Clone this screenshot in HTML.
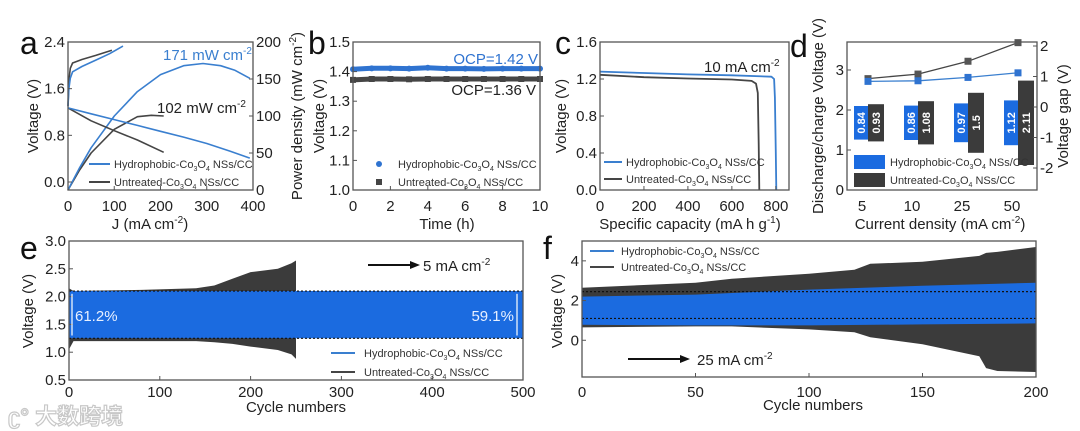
<!DOCTYPE html>
<html><head><meta charset="utf-8">
<style>
html,body{margin:0;padding:0;background:#fff;}
svg{display:block;font-family:"Liberation Sans","Noto Sans CJK SC",sans-serif;}
</style></head>
<body>
<svg id="fig" width="1080" height="431" viewBox="0 0 1080 431" xmlns="http://www.w3.org/2000/svg">
<rect x="0" y="0" width="1080" height="431" fill="#fff"/>
<g id="marks"></g>
<g id="frames"></g>
<g id="ann">
  <text x="20" y="54" font-size="32" fill="#111">a</text>
  <text x="308" y="54" font-size="32" fill="#111">b</text>
  <text x="555" y="54" font-size="32" fill="#111">c</text>
  <text x="790" y="57" font-size="32" fill="#111">d</text>
  <text x="20" y="259" font-size="32" fill="#111">e</text>
  <text x="543" y="259" font-size="32" fill="#111">f</text>

  <text x="163" y="60" font-size="15" fill="#3a7fcf">171 mW cm<tspan font-size="10" dy="-6">-2</tspan></text>
  <text x="157" y="113" font-size="15" fill="#222">102 mW cm<tspan font-size="10" dy="-6">-2</tspan></text>

  <text x="538" y="64" font-size="15" fill="#2f73d0" text-anchor="end">OCP=1.42 V</text>
  <text x="536" y="95" font-size="15" fill="#222" text-anchor="end">OCP=1.36 V</text>

  <text x="704" y="72" font-size="15" fill="#222">10 mA cm<tspan font-size="10" dy="-6">-2</tspan></text>

  <line x1="368" y1="265" x2="412" y2="265" stroke="#111" stroke-width="2"/>
  <polygon points="420,265 410,261 410,269" fill="#111"/>
  <text x="423" y="271" font-size="15" fill="#222">5 mA cm<tspan font-size="10" dy="-6">-2</tspan></text>

  <line x1="628" y1="359" x2="682" y2="359" stroke="#111" stroke-width="2"/>
  <polygon points="690,359 680,355 680,363" fill="#111"/>
  <text x="697" y="365" font-size="15" fill="#222">25 mA cm<tspan font-size="10" dy="-6">-2</tspan></text>

  <text x="8" y="424" font-size="22" fill="#fff" stroke="#c8c8c8" stroke-width="1.2" font-weight="bold">ʗ° 大数跨境</text>
</g>
</svg>
<script>
const NS='http://www.w3.org/2000/svg';
const marks=document.getElementById('marks');
const frames=document.getElementById('frames');
const ann=document.getElementById('ann');
function lin(d0,d1,r0,r1){return v=>r0+(v-d0)/(d1-d0)*(r1-r0);}
function mk(tag,attrs,parent){const e=document.createElementNS(NS,tag);for(const k in attrs)e.setAttribute(k,attrs[k]);parent.appendChild(e);return e;}
const BLUE='#3a7fcf', GRAY='#454545', BAND_BLUE='#1b6be0', BAND_GRAY='#3b3b3b';

/* ---------- data ---------- */
// a: polarization + power
const aBlueDisJ=[0,50,100,150,200,250,300,350,393];
const aBlueDisV=[1.27,1.17,1.07,0.97,0.87,0.77,0.66,0.53,0.41];
const aGrayDisJ=[0,50,100,150,207];
const aGrayDisV=[1.27,1.05,0.88,0.72,0.51];
const aBlueChJ=[0,2,5,10,30,60,90,119];
const aBlueChV=[1.3,1.6,1.78,1.89,1.98,2.09,2.2,2.33];
const aGrayChJ=[0,2,5,10,30,60,95];
const aGrayChV=[1.3,1.75,1.95,2.04,2.1,2.17,2.26];
const aBluePJ=[0,25,50,100,150,200,250,292,330,360,393];
const aBlueP=[0,30,57,100,133,156,168,171,168,162,151];
const aGrayPJ=[0,25,50,100,150,180,207];
const aGrayP=[0,27,50,82,99,101,100];
// b: OCP vs time
const bTime=[0,1,2,3,4,5,6,7,8,9,10];
const bBlue=[1.408,1.411,1.411,1.41,1.413,1.41,1.41,1.409,1.41,1.41,1.41];
const bGray=[1.372,1.375,1.375,1.374,1.375,1.375,1.375,1.375,1.375,1.375,1.375];
// c: discharge
const cBlueCap=[0,200,400,600,780,792,796,800,802];
const cBlueV=[1.28,1.265,1.25,1.24,1.225,1.2,1.0,0.4,0];
const cGrayCap=[0,200,400,600,690,710,718,722,725];
const cGrayV=[1.245,1.22,1.205,1.195,1.18,1.15,1.05,0.5,0];
// d: voltage gap
const dCats=['5','10','25','50'];
const dBlueGap=[0.84,0.86,0.97,1.12];
const dGrayGap=[0.93,1.08,1.5,2.11];
// e: cycling 5 mA
const eBlueCyc=[0,500];
const eBlueTop=[2.1,2.1];
const eBlueBot=[1.25,1.25];
const eGrayCyc=[0,5,80,140,160,180,200,230,245,250];
const eGrayTop=[2.15,2.1,2.12,2.15,2.2,2.32,2.44,2.5,2.6,2.65];
const eGrayBot=[1.05,1.2,1.2,1.2,1.18,1.15,1.1,1.04,0.96,0.88];
// f: cycling 25 mA
const fBlueCyc=[0,50,100,150,200];
const fBlueTop=[2.2,2.3,2.55,2.75,2.9];
const fBlueBot=[0.78,0.75,0.75,0.8,0.85];
const fGrayCyc=[0,50,66,100,120,127,150,175,178,183,200];
const fGrayTop=[2.65,2.9,3.1,3.35,3.55,3.85,3.95,4.25,4.4,4.45,4.7];
const fGrayBot=[0.65,0.7,0.7,0.55,0.4,0.15,-0.2,-0.8,-1.4,-1.55,-1.6];

/* ---------- scales ---------- */
const A={L:68,R:253,T:42,B:190}; const ax=lin(0,400,A.L,A.R), ayL=lin(0,2.4,182,42), ayR=lin(0,200,190,42);
const Bp={L:353,R:540,T:42,B:190}; const bx=lin(0,10,Bp.L,Bp.R), by=lin(1.0,1.5,Bp.B,Bp.T);
const C={L:600,R:789,T:42,B:190}; const cx=lin(0,860,C.L,C.R), cy=lin(0,1.6,C.B,C.T);
const D={L:847,R:1037,T:42,B:190}; const dx=i=>D.L+15+i*50, dyL=lin(0,3.7,D.B,D.T), dyR=lin(0,1,107,76.5);
const E={L:69,R:523,T:241,B:380}; const ex=lin(0,500,E.L,E.R), ey=lin(0.5,3.0,E.B,E.T);
const F={L:582,R:1036,T:241,B:377}; const fx=lin(0,200,F.L,F.R), fy=lin(-1.85,5.0,F.B,F.T);

/* ---------- helpers ---------- */
function pathOf(xs,ys,sx,sy){return xs.map((v,i)=>(i?'L':'M')+sx(v).toFixed(1)+' '+sy(ys[i]).toFixed(1)).join(' ');}
function drawLine(xs,ys,sx,sy,color,w,nm){
  const p=mk('path',{d:pathOf(xs,ys,sx,sy),fill:'none',stroke:color,'stroke-width':w,'stroke-linejoin':'round'},marks);
  
  
  return p;
}
function drawBand(xs,top,bot,sx,sy,color,nm){
  let d='M'+xs.map((v,i)=>sx(v).toFixed(1)+' '+sy(top[i]).toFixed(1)).join(' L');
  for(let i=xs.length-1;i>=0;i--) d+=' L'+sx(xs[i]).toFixed(1)+' '+sy(bot[i]).toFixed(1);
  const p=mk('path',{d:d+' Z',fill:color},marks);
  
  
}
function frame(P,nm){
  const r=mk('rect',{x:P.L,y:P.T,width:P.R-P.L,height:P.B-P.T,fill:'none',stroke:'#555','stroke-width':1.3},frames);
  
  
}
function xTicks(vals,labels,sx,P,ty,nm){
  vals.forEach((v,i)=>{
    const x=sx(v);
    const t=mk('line',{x1:x,y1:P.B,x2:x,y2:P.B-4,stroke:'#555','stroke-width':1},frames);
    
    
    const l=mk('text',{x:x,y:ty,'font-size':15,'text-anchor':'middle',fill:'#222'},frames);
    l.textContent=labels[i];
    
    
  });
}
function yTicks(vals,labels,sy,x0,side,nm){
  vals.forEach((v,i)=>{
    const y=sy(v);
    const t=mk('line',{x1:x0,y1:y,x2:x0+(side<0?4:-4),y2:y,stroke:'#555','stroke-width':1},frames);
    
    
    const l=mk('text',{x:x0+(side<0?-3:3),y:y+5,'font-size':15,'text-anchor':side<0?'end':'start',fill:'#222'},frames);
    l.textContent=labels[i];
    
    
  });
}
function title(txt,x,y,rot,nm,sup){
  const t=mk('text',{x:x,y:y,'font-size':15,'text-anchor':'middle',fill:'#222',transform:rot?`rotate(-90 ${x} ${y})`:''},frames);
  t.textContent=txt;
  if(sup){const s=mk('tspan',{'font-size':10,dy:-6},t);s.textContent=sup[0];const s2=mk('tspan',{dy:6},t);s2.textContent=sup[1];}
  
  
}
function legendText(x,y,pre,parent,nm){
  const t=mk('text',{x:x,y:y,'font-size':11,fill:'#333'},parent);
  t.appendChild(document.createTextNode(pre+'-Co'));
  let s=mk('tspan',{'font-size':7,dy:3},t);s.textContent='3';
  s=mk('tspan',{dy:-3},t);s.textContent='O';
  s=mk('tspan',{'font-size':7,dy:3},t);s.textContent='4';
  s=mk('tspan',{dy:-3},t);s.textContent=' NSs/CC';
  
  
}
function legLine(x1,x2,y,color,w,nm){
  const l=mk('line',{x1:x1,y1:y,x2:x2,y2:y,stroke:color,'stroke-width':w},ann);
  
  
}

/* ---------- panel a ---------- */
drawLine(aGrayPJ,aGrayP,ax,ayR,GRAY,1.6,'power-curve-untreated');
drawLine(aBluePJ,aBlueP,ax,ayR,BLUE,1.6,'power-curve-hydrophobic');
drawLine(aGrayDisJ,aGrayDisV,ax,ayL,GRAY,1.6,'discharge-curve-untreated');
drawLine(aBlueDisJ,aBlueDisV,ax,ayL,BLUE,1.6,'discharge-curve-hydrophobic');
drawLine(aGrayChJ,aGrayChV,ax,ayL,GRAY,1.6,'charge-curve-untreated');
drawLine(aBlueChJ,aBlueChV,ax,ayL,BLUE,1.6,'charge-curve-hydrophobic');
frame(A,'plot-frame-a');
xTicks([0,100,200,300,400],['0','100','200','300','400'],ax,A,211,'x-axis-a');
yTicks([0,0.8,1.6,2.4],['0.0','0.8','1.6','2.4'],ayL,A.L,-1,'y-axis-left-a');
yTicks([0,50,100,150,200],['0','50','100','150','200'],ayR,A.R,1,'y-axis-right-a');
title('J (mA cm',150,229,false,'x-axis-title-a',['-2',')']);
title('Voltage (V)',38,116,true,'y-axis-title-left-a');
title('Power density (mW cm',302,116,true,'y-axis-title-right-a',['-2',')']);
legLine(89,110,164,BLUE,2,'legend-line-hydrophobic-a');
legLine(89,110,182,GRAY,2,'legend-line-untreated-a');
legendText(114,168,'Hydrophobic',ann,'legend-text-hydrophobic-a');
legendText(114,186,'Untreated',ann,'legend-text-untreated-a');

/* ---------- panel b ---------- */
drawLine(bTime,bGray,bx,by,GRAY,5,'ocp-series-untreated');
drawLine(bTime,bBlue,bx,by,'#2f73d0',5,'ocp-series-hydrophobic');
bTime.forEach((t,i)=>{
  const c=mk('circle',{cx:bx(t),cy:by(bBlue[i]),r:3,fill:'#2f73d0'},marks);
  
  
  const s=mk('rect',{x:bx(t)-3,y:by(bGray[i])-3,width:6,height:6,fill:GRAY},marks);
  
  
});
frame(Bp,'plot-frame-b');
xTicks([0,2,4,6,8,10],['0','2','4','6','8','10'],bx,Bp,211,'x-axis-b');
yTicks([1.0,1.1,1.2,1.3,1.4,1.5],['1.0','1.1','1.2','1.3','1.4','1.5'],by,Bp.L,-1,'y-axis-b');
title('Time (h)',447,229,false,'x-axis-title-b');
title('Voltage (V)',324,116,true,'y-axis-title-b');
{const c=mk('circle',{cx:379,cy:164,r:3,fill:'#2f73d0'},ann);
 const s=mk('rect',{x:376,y:179,width:6,height:6,fill:GRAY},ann);}
legendText(398,168,'Hydrophobic',ann,'legend-text-hydrophobic-b');
legendText(398,186,'Untreated',ann,'legend-text-untreated-b');

/* ---------- panel c ---------- */
drawLine(cGrayCap,cGrayV,cx,cy,GRAY,1.8,'discharge-untreated-c');
drawLine(cBlueCap,cBlueV,cx,cy,BLUE,1.8,'discharge-hydrophobic-c');
frame(C,'plot-frame-c');
xTicks([0,200,400,600,800],['0','200','400','600','800'],cx,C,211,'x-axis-c');
yTicks([0,0.4,0.8,1.2,1.6],['0.0','0.4','0.8','1.2','1.6'],cy,C.L,-1,'y-axis-c');
title('Specific capacity (mA h g',690,229,false,'x-axis-title-c',['-1',')']);
title('Voltage (V)',566,116,true,'y-axis-title-c');
legLine(604,622,162,BLUE,2,'legend-line-hydrophobic-c');
legLine(604,622,179,GRAY,2,'legend-line-untreated-c');
legendText(626,166,'Hydrophobic',ann,'legend-text-hydrophobic-c');
legendText(626,183,'Untreated',ann,'legend-text-untreated-c');

/* ---------- panel d ---------- */
const dCenter=1.68;
dCats.forEach((c,i)=>{
  const xb=dx(i)-1;
  const hb=dyL(0)-dyL(dBlueGap[i]);
  const rb=mk('rect',{x:xb-7,y:dyL(dCenter)-hb/2,width:14,height:hb,fill:'#1b6be0'},marks);
  
  
  const hg=dyL(0)-dyL(dGrayGap[i]);
  const rg=mk('rect',{x:xb+7,y:dyL(dCenter)-hg/2,width:16,height:hg,fill:'#3b3b3b'},marks);
  
  
  const yc=dyL(dCenter);
  const tb=mk('text',{x:xb+4,y:yc,'font-size':11,'font-weight':'bold',fill:'#fff','text-anchor':'middle',transform:`rotate(-90 ${xb+4} ${yc})`},marks);
  tb.textContent=dBlueGap[i].toFixed(2);
  
  
  const tg=mk('text',{x:xb+19,y:yc,'font-size':11,'font-weight':'bold',fill:'#fff','text-anchor':'middle',transform:`rotate(-90 ${xb+19} ${yc})`},marks);
  tg.textContent=String(dGrayGap[i]);
  
  
});
const dIdx=dCats.map((c,i)=>i);
const dmx=i=>dx(i)+6;
drawLine(dIdx,dGrayGap,dmx,dyR,GRAY,1.3,'gap-line-untreated');
drawLine(dIdx,dBlueGap,dmx,dyR,BLUE,1.3,'gap-line-hydrophobic');
dIdx.forEach(i=>{
  const g=mk('rect',{x:dmx(i)-3.5,y:dyR(dGrayGap[i])-3.5,width:7,height:7,fill:'#555'},marks);
  
  
  const b=mk('rect',{x:dmx(i)-3.5,y:dyR(dBlueGap[i])-3.5,width:7,height:7,fill:'#2f73d0'},marks);
  
  
});
frame(D,'plot-frame-d');
dCats.forEach((c,i)=>{
  const l=mk('text',{x:dx(i),y:211,'font-size':15,'text-anchor':'middle',fill:'#222'},frames);
  l.textContent=c;
  
  
});
yTicks([0,1,2,3],['0','1','2','3'],dyL,D.L,-1,'y-axis-left-d');
yTicks([-2,-1,0,1,2],['-2','-1','0','1','2'],dyR,D.R,1,'y-axis-right-d');
title('Current density (mA cm',940,229,false,'x-axis-title-d',['-2',')']);
title('Discharge/charge Voltage (V)',823,116,true,'y-axis-title-left-d');
title('Voltage gap (V)',1068,116,true,'y-axis-title-right-d');
{const r1=mk('rect',{x:854,y:155,width:31,height:14,fill:'#1b6be0'},ann);
 const r2=mk('rect',{x:854,y:173,width:31,height:14,fill:'#3b3b3b'},ann);}
legendText(890,166,'Hydrophobic',ann,'legend-text-hydrophobic-d');
legendText(890,184,'Untreated',ann,'legend-text-untreated-d');

/* ---------- panel e ---------- */
drawBand(eGrayCyc,eGrayTop,eGrayBot,ex,ey,BAND_GRAY,'cycling-band-untreated-e');
drawBand(eBlueCyc,eBlueTop,eBlueBot,ex,ey,BAND_BLUE,'cycling-band-hydrophobic-e');
[eBlueTop[0],eBlueBot[0]].forEach(v=>{
  const l=mk('line',{x1:E.L,x2:E.R,y1:ey(v),y2:ey(v),stroke:'#111','stroke-width':1.2,'stroke-dasharray':'2 2'},marks);
  
  
});
frame(E,'plot-frame-e');
xTicks([0,100,200,300,400,500],['0','100','200','300','400','500'],ex,E,397,'x-axis-e');
yTicks([0.5,1.0,1.5,2.0,2.5,3.0],['0.5','1.0','1.5','2.0','2.5','3.0'],ey,E.L,-1,'y-axis-e');
title('Cycle numbers',296,412,false,'x-axis-title-e');
title('Voltage (V)',33,311,true,'y-axis-title-e');
legLine(331,355,353,BLUE,2,'legend-line-hydrophobic-e');
legLine(331,355,372,GRAY,2,'legend-line-untreated-e');
legendText(364,357,'Hydrophobic',ann,'legend-text-hydrophobic-e');
legendText(364,376,'Untreated',ann,'legend-text-untreated-e');
[[72,'start','61.2%',75],[517,'end','59.1%',514]].forEach(([ax0,anc,txt,tx],k)=>{
  const l=mk('line',{x1:ax0,x2:ax0,y1:ey(2.05),y2:ey(1.3),stroke:'#fff','stroke-width':1.2},ann);
  
  
  const t=mk('text',{x:tx,y:321,'font-size':15,fill:'#e8f0ff','text-anchor':anc},ann);
  t.textContent=txt;
  
  
});

/* ---------- panel f ---------- */
drawBand(fGrayCyc,fGrayTop,fGrayBot,fx,fy,BAND_GRAY,'cycling-band-untreated-f');
drawBand(fBlueCyc,fBlueTop,fBlueBot,fx,fy,BAND_BLUE,'cycling-band-hydrophobic-f');
[2.45,1.1].forEach(v=>{
  const l=mk('line',{x1:F.L,x2:F.R,y1:fy(v),y2:fy(v),stroke:'#111','stroke-width':1.2,'stroke-dasharray':'2 2'},marks);
  
  
});
frame(F,'plot-frame-f');
xTicks([0,50,100,150,200],['0','50','100','150','200'],fx,F,397,'x-axis-f');
yTicks([0,2,4],['0','2','4'],fy,F.L,-1,'y-axis-f');
title('Cycle numbers',813,410,false,'x-axis-title-f');
title('Voltage (V)',562,311,true,'y-axis-title-f');
legLine(590,614,251,BLUE,2,'legend-line-hydrophobic-f');
legLine(590,614,267,GRAY,2,'legend-line-untreated-f');
legendText(621,255,'Hydrophobic',ann,'legend-text-hydrophobic-f');
legendText(621,271,'Untreated',ann,'legend-text-untreated-f');
</script>
</body></html>
